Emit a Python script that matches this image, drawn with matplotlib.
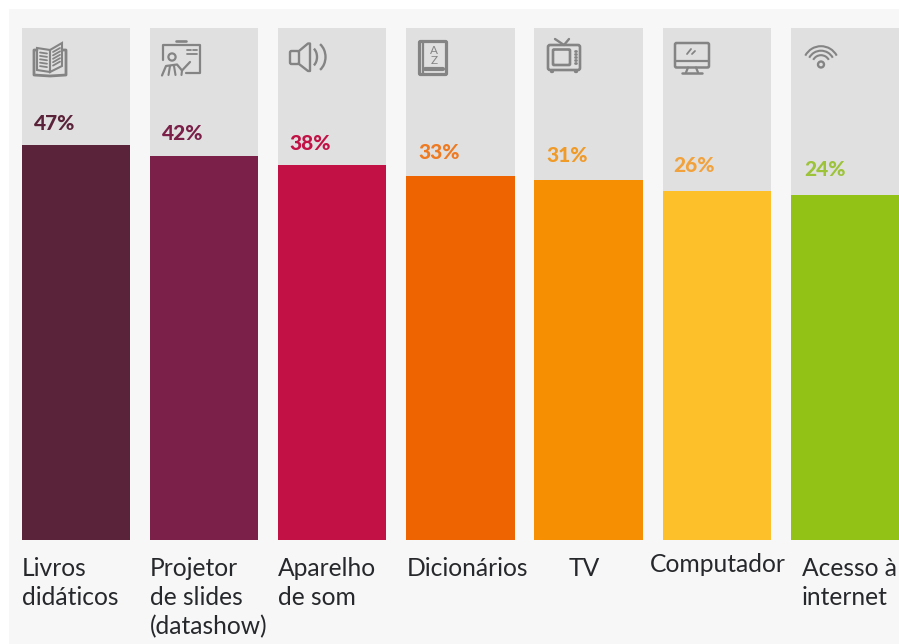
import matplotlib
matplotlib.use('Agg')
from matplotlib import pyplot as plt
from matplotlib.patches import Rectangle, FancyBboxPatch, Circle, Arc, Polygon

categories = ['Livros\ndidáticos', 'Projetor\nde slides\n(datashow)', 'Aparelho\nde som',
              'Dicionários', 'TV', 'Computador', 'Acesso à\ninternet']
values = [47, 42, 38, 33, 31, 26, 24]
bar_colors = ['#5a2339', '#7a2049', '#c21245', '#ee6400', '#f78f02', '#fdc02b', '#92c216']
text_colors = ['#5a2339', '#7a2049', '#c21245', '#ee7a22', '#f09a28', '#f2a23c', '#9cc33a']
# category label offsets from the left edge of each bar, and first baseline
label_dx = [0, 0, 0, 0, 34, -13, 11]
label_base = [576, 576, 576, 576, 576, 572, 576]
LINE_STEP = 29
# percent label offsets from the bar's top left corner
pct_dx = [12, 12, 11, 12.5, 12, 11, 14]
pct_gap = [11.3, 13, 12, 14, 14.6, 16.3, 16.7]

W, H = 899, 644
GREY = '#848484'
BASE = -131.7
UNIT = 128.2
HALF = 54.2

plt.rcParams['font.family'] = ['Lato', 'DejaVu Sans']

fig = plt.figure(figsize=(W / 100, H / 100), dpi=100, facecolor='white')


def px_axes(left, top, right, bottom):
    return fig.add_axes([left / W, 1 - bottom / H, (right - left) / W, (bottom - top) / H])


# page panel behind everything, pixel coordinates
bg = fig.add_axes([0, 0, 1, 1])
bg.set_xlim(0, W)
bg.set_ylim(H, 0)
bg.axis('off')
bg.add_patch(Rectangle((9, 9), W - 9, H - 9, color='#f7f7f7', lw=0))

# bars, top of the axes is 100%
ax = px_axes(21.8, 27.5, W, 539.5)
ax.patch.set_alpha(0)
ax.set_xlim(-HALF / UNIT, 6 + HALF / UNIT)
ax.set_ylim(BASE, 100)
ax.axis('off')
xs = list(range(len(values)))
width = 2 * HALF / UNIT
ax.bar(xs, [100 - BASE] * len(xs), width=width, bottom=BASE, color='#e0e0e0', linewidth=0)
ax.bar(xs, [v - BASE for v in values], width=width, bottom=BASE, color=bar_colors, linewidth=0)
for x, v, c, dx, gap in zip(xs, values, text_colors, pct_dx, pct_gap):
    ax.annotate(str(v) + '%', (x - HALF / UNIT, v), xytext=(dx, gap), textcoords='offset pixels',
                fontsize=15, fontweight='black', color=c, ha='left', va='bottom')

# icons and category labels on top, pixel coordinates
top = fig.add_axes([0, 0, 1, 1])
top.patch.set_alpha(0)
top.set_xlim(0, W)
top.set_ylim(H, 0)
top.axis('off')


def line(pts, lw=1.7, color=GREY):
    top.plot([p[0] for p in pts], [p[1] for p in pts], color=color, lw=lw,
             solid_capstyle='round', solid_joinstyle='round')


def round_box(x, y, w, h, lw=1.7, r=1.5, color=GREY, fill='none'):
    top.add_patch(FancyBboxPatch((x, y), w, h, boxstyle='round,pad=0,rounding_size=%s' % r,
                                 fc=fill, ec=color, lw=lw))


def icon_book():
    top.add_patch(Polygon([(37, 48), (50, 50), (50, 72), (37, 70)], closed=True, fc='none', ec=GREY, lw=1.5))
    top.add_patch(Polygon([(50, 50), (62, 43), (62, 66), (50, 72)], closed=True, fc='none', ec=GREY, lw=1.5))
    line([(37, 50), (34, 50), (34, 75), (50, 76), (66, 75), (66, 50), (62, 50)], lw=2.0)
    for i in range(5):
        line([(40, 52.5 + i * 3.4), (47, 53.5 + i * 3.4)], lw=1.3)
        line([(53, 52 + i * 3.4), (60, 48 + i * 3.4)], lw=1.3)


def icon_projector():
    line([(176, 41), (186, 41)], lw=1.9)
    line([(163, 60), (163, 45), (200, 45), (200, 72.5), (186, 72.5)], lw=1.6)
    line([(187, 50), (191, 50)], lw=1.3)
    line([(193, 50), (197, 50)], lw=1.3)
    line([(187, 54), (197, 54)], lw=1.3)
    top.add_patch(Circle((172, 57), 3.6, fc='none', ec=GREY, lw=1.6))
    line([(162, 75.5), (166, 66), (177, 64.5), (182, 70.5), (190, 62)], lw=1.6)
    line([(170, 66), (168.5, 75)], lw=1.5)
    line([(174, 66), (175.5, 75)], lw=1.5)
    line([(182, 70.5), (181.5, 75)], lw=1.5)


def icon_speaker():
    round_box(290, 51, 9, 13, lw=1.7, r=1.5)
    line([(299, 51), (308, 43.5), (310, 43.5), (310, 71), (308, 71), (299, 64)], lw=1.7)
    top.add_patch(Arc((310, 57), 14, 20, theta1=-65, theta2=65, ec=GREY, lw=1.7))
    top.add_patch(Arc((312, 57), 27, 32, theta1=-58, theta2=58, ec=GREY, lw=1.7))


def icon_dictionary():
    round_box(419.5, 41.5, 27, 33, lw=2.3, r=1)
    line([(422.5, 42), (422.5, 74)], lw=1.6)
    line([(425, 68.5), (443, 68.5)], lw=3.0)
    top.text(434, 50, 'A', fontsize=8.5, color=GREY, ha='center', va='center')
    top.text(434, 60.5, 'Z', fontsize=8.5, color=GREY, ha='center', va='center')


def icon_tv():
    round_box(548, 45, 32, 25, lw=1.9, r=2)
    round_box(553, 49.5, 17, 15.5, lw=1.9, r=1)
    line([(555, 39), (564, 45), (569, 39)], lw=1.7)
    for i in range(5):
        line([(575, 50.5 + i * 3.2), (575.5, 50.5 + i * 3.2)], lw=2)
    line([(551, 71), (552, 71)], lw=2.4)
    line([(575, 71), (576, 71)], lw=2.4)


def icon_computer():
    round_box(675, 43, 34, 24.5, lw=1.8, r=1.5)
    line([(675, 61), (709, 61)], lw=1.6)
    line([(687, 54), (691, 49)], lw=1.3)
    line([(692, 54), (695, 51)], lw=1.3)
    line([(688, 67.5), (686, 72.5)], lw=1.6)
    line([(696, 67.5), (698, 72.5)], lw=1.6)
    line([(682, 73), (702, 73)], lw=1.8)


def icon_wifi():
    top.add_patch(Circle((821, 64.5), 3, fc='none', ec=GREY, lw=1.7))
    for r in (8.8, 13.3, 17.8):
        top.add_patch(Arc((821, 64), 2 * r, 2 * r, theta1=208, theta2=332, ec=GREY, lw=1.5))


for draw_icon in (icon_book, icon_projector, icon_speaker, icon_dictionary, icon_tv, icon_computer, icon_wifi):
    draw_icon()

lefts = [22, 150, 278, 406.5, 535, 663, 791]
for left, dx, y, label in zip(lefts, label_dx, label_base, categories):
    for i, row in enumerate(label.split('\n')):
        top.text(left + dx, y + i * LINE_STEP, row, fontsize=17.7, color='#26282b', ha='left', va='baseline')

fig.savefig('out.png', dpi=100, facecolor=fig.get_facecolor())
